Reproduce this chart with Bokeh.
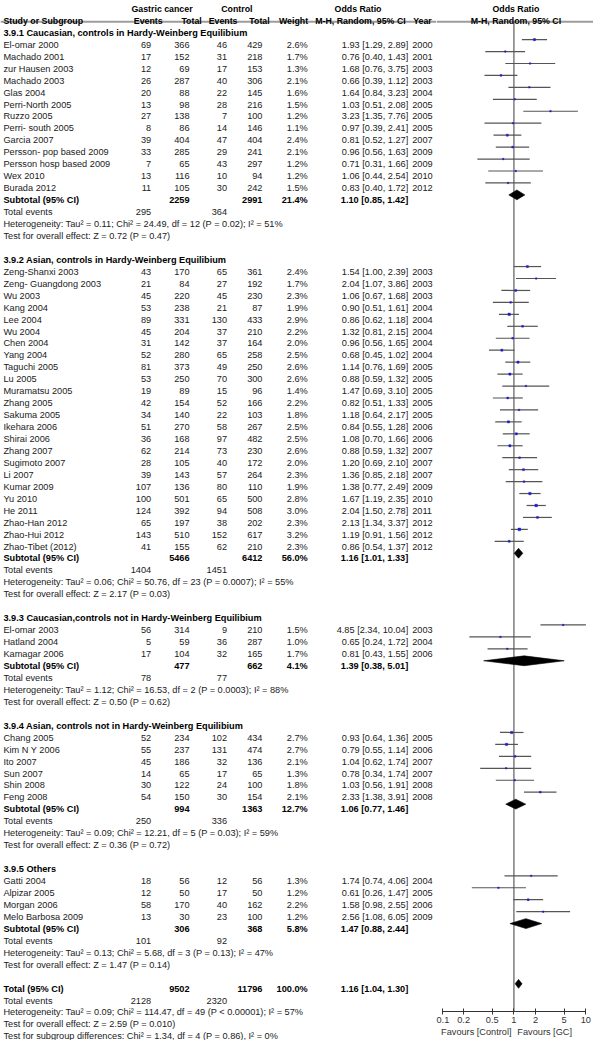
from bokeh.plotting import figure
from bokeh.layouts import row
from bokeh.models import ColumnDataSource, Range1d, FixedTicker, CustomJSTickFormatter, LogAxis
from bokeh.core.properties import value
from bokeh.embed import file_html
from bokeh.resources import INLINE

# ------------------------------------------------------------------ data
group_titles = [
    "3.9.1 Caucasian, controls in Hardy-Weinberg Equilibium",
    "3.9.2 Asian, controls in Hardy-Weinberg Equilibium",
    "3.9.3 Caucasian,controls not in Hardy-Weinberg Equilibium",
    "3.9.4 Asian, controls not in Hardy-Weinberg Equilibium",
    "3.9.5 Others",
]

studies = [
    "El-omar 2000", "Machado 2001", "zur Hausen 2003", "Machado 2003", "Glas 2004",
    "Perri-North 2005", "Ruzzo 2005", "Perri- south 2005", "Garcia 2007",
    "Persson- pop based 2009", "Persson hosp based 2009", "Wex 2010", "Burada 2012",
    "Zeng-Shanxi 2003", "Zeng- Guangdong 2003", "Wu 2003", "Kang 2004", "Lee 2004",
    "Wu 2004", "Chen 2004", "Yang 2004", "Taguchi 2005", "Lu 2005", "Muramatsu 2005",
    "Zhang 2005", "Sakuma 2005", "Ikehara 2006", "Shirai 2006", "Zhang 2007",
    "Sugimoto 2007", "Li 2007", "Kumar 2009", "Yu 2010", "He 2011", "Zhao-Han 2012",
    "Zhao-Hui 2012", "Zhao-Tibet (2012)",
    "El-omar 2003", "Hatland 2004", "Kamagar 2006",
    "Chang 2005", "Kim N Y 2006", "Ito 2007", "Sun 2007", "Shin 2008", "Feng 2008",
    "Gatti 2004", "Alpizar 2005", "Morgan 2006", "Melo Barbosa 2009",
]
study_group = [0] * 13 + [1] * 24 + [2] * 3 + [3] * 6 + [4] * 4

gc_events = [69, 17, 12, 26, 20, 13, 27, 8, 39, 33, 7, 13, 11,
             43, 21, 45, 53, 89, 45, 31, 52, 81, 53, 19, 42, 34, 51, 36, 62, 28, 39,
             107, 100, 124, 65, 143, 41,
             56, 5, 17,
             52, 55, 45, 14, 30, 54,
             18, 12, 58, 13]
gc_total = [366, 152, 69, 287, 88, 98, 138, 86, 404, 285, 65, 116, 105,
            170, 84, 220, 238, 331, 204, 142, 280, 373, 250, 89, 154, 140, 270, 168, 214,
            105, 143, 136, 501, 392, 197, 510, 155,
            314, 59, 104,
            234, 237, 186, 65, 122, 150,
            56, 50, 170, 30]
ctl_events = [46, 31, 17, 40, 22, 28, 7, 14, 47, 29, 43, 10, 30,
              65, 27, 45, 21, 130, 37, 37, 65, 49, 70, 15, 52, 22, 58, 97, 73, 40, 57,
              80, 65, 94, 38, 152, 62,
              9, 36, 32,
              102, 131, 32, 17, 24, 30,
              12, 17, 40, 23]
ctl_total = [429, 218, 153, 306, 145, 216, 100, 146, 404, 241, 297, 94, 242,
             361, 192, 230, 87, 433, 210, 164, 258, 250, 300, 96, 166, 103, 267, 482, 230,
             172, 264, 110, 500, 508, 202, 617, 210,
             210, 287, 165,
             434, 474, 136, 65, 100, 154,
             56, 50, 162, 100]
weights = [2.6, 1.7, 1.3, 2.1, 1.6, 1.5, 1.2, 1.1, 2.4, 2.1, 1.2, 1.2, 1.5,
           2.4, 1.7, 2.3, 1.9, 2.9, 2.2, 2.0, 2.5, 2.6, 2.6, 1.4, 2.2, 1.8, 2.5, 2.5, 2.6,
           2.0, 2.3, 1.9, 2.8, 3.0, 2.3, 3.2, 2.3,
           1.5, 1.0, 1.7,
           2.7, 2.7, 2.1, 1.3, 1.8, 2.1,
           1.3, 1.2, 2.2, 1.2]
odds = [1.93, 0.76, 1.68, 0.66, 1.64, 1.03, 3.23, 0.97, 0.81, 0.96, 0.71, 1.06, 0.83,
        1.54, 2.04, 1.06, 0.90, 0.86, 1.32, 0.96, 0.68, 1.14, 0.88, 1.47, 0.82, 1.18,
        0.84, 1.08, 0.88, 1.20, 1.36, 1.38, 1.67, 2.04, 2.13, 1.19, 0.86,
        4.85, 0.65, 0.81,
        0.93, 0.79, 1.04, 0.78, 1.03, 2.33,
        1.74, 0.61, 1.58, 2.56]
ci_low = [1.29, 0.40, 0.76, 0.39, 0.84, 0.51, 1.35, 0.39, 0.52, 0.56, 0.31, 0.44, 0.40,
          1.00, 1.07, 0.67, 0.51, 0.62, 0.81, 0.56, 0.45, 0.76, 0.59, 0.69, 0.51, 0.64,
          0.55, 0.70, 0.59, 0.69, 0.85, 0.77, 1.19, 1.50, 1.34, 0.91, 0.54,
          2.34, 0.24, 0.43,
          0.64, 0.55, 0.62, 0.34, 0.56, 1.38,
          0.74, 0.26, 0.98, 1.08]
ci_high = [2.89, 1.43, 3.75, 1.12, 3.23, 2.08, 7.76, 2.41, 1.27, 1.63, 1.66, 2.54, 1.72,
           2.39, 3.86, 1.68, 1.61, 1.18, 2.15, 1.65, 1.02, 1.69, 1.32, 3.10, 1.33, 2.17,
           1.28, 1.66, 1.32, 2.10, 2.18, 2.49, 2.35, 2.78, 3.37, 1.56, 1.37,
           10.04, 1.72, 1.55,
           1.36, 1.14, 1.74, 1.74, 1.91, 3.91,
           4.06, 1.47, 2.55, 6.05]
years = [2000, 2001, 2003, 2003, 2004, 2005, 2005, 2005, 2007, 2009, 2009, 2010, 2012,
         2003, 2003, 2003, 2004, 2004, 2004, 2004, 2004, 2005, 2005, 2005, 2005, 2005,
         2006, 2006, 2007, 2007, 2007, 2009, 2010, 2011, 2012, 2012, 2012,
         2003, 2004, 2006,
         2005, 2006, 2007, 2007, 2008, 2008,
         2004, 2005, 2006, 2009]

sub_gc_total = [2259, 5466, 477, 994, 306]
sub_ctl_total = [2991, 6412, 662, 1363, 368]
sub_weight = [21.4, 56.0, 4.1, 12.7, 5.8]
sub_or = [1.10, 1.16, 1.39, 1.06, 1.47]
sub_low = [0.85, 1.01, 0.38, 0.77, 0.88]
sub_high = [1.42, 1.33, 5.01, 1.46, 2.44]
sub_gc_events = [295, 1404, 78, 250, 101]
sub_ctl_events = [364, 1451, 77, 336, 92]
het_tau2 = [0.11, 0.06, 1.12, 0.09, 0.13]
het_chi2 = [24.49, 50.76, 16.53, 12.21, 5.68]
het_df = [12, 23, 2, 5, 3]
het_p = ["= 0.02", "= 0.0007", "= 0.0003", "= 0.03", "= 0.13"]
het_i2 = [51, 55, 88, 59, 47]
z_val = [0.72, 2.17, 0.50, 0.36, 1.47]
z_p = ["0.47", "0.03", "0.62", "0.72", "0.14"]

total_gc, total_ctl, total_weight = 9502, 11796, 100.0
total_or, total_low, total_high = 1.16, 1.04, 1.30
total_gc_events, total_ctl_events = 2128, 2320
total_tau2, total_chi2, total_df, total_p, total_i2 = 0.09, 114.47, 49, "< 0.00001", 57
total_z, total_zp = 2.59, "0.010"
diff_chi2, diff_df, diff_p, diff_i2 = 1.34, 4, "0.86", 0

axis_ticks = [0.1, 0.2, 0.5, 1, 2, 5, 10]
favours_labels = ["Favours [Control]", "Favours [GC]"]

# ------------------------------------------------------------------ layout
S = 1040 / 1056.0
X0 = 3.0
LEFT_W, RIGHT_W, H, BOTTOM = 436, 157, 1040, 29
SPLIT = X0 + LEFT_W / S
XEND = SPLIT + RIGHT_W / S
YBOT = (H - BOTTOM) / S
X_ONE, DEC = 524.3, 73.0
Y0, LH = 5.3, 12.13
FS = "9.2px"
FS_HEAD = "8.8px"
FONT = "Liberation Sans"
BASE = 3.3      # baseline below visual centre
MOFF = -2.0     # plot marks above text centre
FAV_POS = [0.30, 2.68]   # label centres on the odds-ratio scale


def ref_to_or(x):
    return 10 ** ((x - X_ONE) / DEC)


def ly(i):
    return Y0 + LH * i


def ortxt(o, lo, hi):
    return f"{o:.2f} [{lo:.2f}, {hi:.2f}]"


items = {}


def put(x, line, txt, align="left", bold=False, size=FS):
    d = items.setdefault((align, bold, size), {"x": [], "y": [], "t": []})
    d["x"].append(x)
    d["y"].append(ly(line) + BASE)
    d["t"].append(str(txt))


C_EV, C_TOT, C_CEV, C_CTOT, C_W, C_OR, C_YR, C_NAME = 156, 195, 233, 269, 315, 417, 421, 6

# header
put(167, 0, "Gastric cancer", "center", True, FS_HEAD)
put(243, 0, "Control", "center", True, FS_HEAD)
put(366, 0, "Odds Ratio", "center", True, FS_HEAD)
put(C_NAME, 1, "Study or Subgroup", "left", True, FS_HEAD)
put(153, 1, "Events", "center", True, FS_HEAD)
put(197, 1, "Total", "center", True, FS_HEAD)
put(229, 1, "Events", "center", True, FS_HEAD)
put(266, 1, "Total", "center", True, FS_HEAD)
put(300.5, 1, "Weight", "center", True, FS_HEAD)
put(368.5, 1, "M-H, Random, 95% CI", "center", True, FS_HEAD)
put(422, 1, "Year", "left", True, FS_HEAD)

ci_rows = {"lo": [], "hi": [], "o": [], "y": [], "s": []}
dia = {"xs": [], "ys": []}


def diamond(o, lo, hi, y, hh=5.0):
    dia["xs"].append([lo, o, hi, o])
    dia["ys"].append([y, y - hh, y, y + hh])


cur = 2
for g in range(len(group_titles)):
    put(C_NAME, cur, group_titles[g], "left", True)
    cur += 1
    for i, name in enumerate(studies):
        if study_group[i] != g:
            continue
        put(C_NAME, cur, name)
        put(C_EV, cur, gc_events[i], "right")
        put(C_TOT, cur, gc_total[i], "right")
        put(C_CEV, cur, ctl_events[i], "right")
        put(C_CTOT, cur, ctl_total[i], "right")
        put(C_W, cur, f"{weights[i]:.1f}%", "right")
        put(C_OR, cur, ortxt(odds[i], ci_low[i], ci_high[i]), "right")
        put(C_YR, cur, years[i], "left")
        ci_rows["lo"].append(ci_low[i])
        ci_rows["hi"].append(ci_high[i])
        ci_rows["o"].append(odds[i])
        ci_rows["y"].append(ly(cur) + MOFF)
        ci_rows["s"].append(max(1.5, weights[i] * 0.85))
        cur += 1
    put(C_NAME, cur, "Subtotal (95% CI)", "left", True)
    put(C_TOT, cur, sub_gc_total[g], "right", True)
    put(C_CTOT, cur, sub_ctl_total[g], "right", True)
    put(C_W, cur, f"{sub_weight[g]:.1f}%", "right", True)
    put(C_OR, cur, ortxt(sub_or[g], sub_low[g], sub_high[g]), "right", True)
    diamond(sub_or[g], sub_low[g], sub_high[g], ly(cur) + MOFF)
    cur += 1
    put(C_NAME, cur, "Total events")
    put(C_EV, cur, sub_gc_events[g], "right")
    put(C_CEV, cur, sub_ctl_events[g], "right")
    cur += 1
    put(C_NAME, cur, f"Heterogeneity: Tau\u00b2 = {het_tau2[g]:.2f}; Chi\u00b2 = {het_chi2[g]:.2f}, "
                     f"df = {het_df[g]} (P {het_p[g]}); I\u00b2 = {het_i2[g]}%")
    cur += 1
    put(C_NAME, cur, f"Test for overall effect: Z = {z_val[g]:.2f} (P = {z_p[g]})")
    cur += 2

put(C_NAME, cur, "Total (95% CI)", "left", True)
put(C_TOT, cur, total_gc, "right", True)
put(C_CTOT, cur, total_ctl, "right", True)
put(C_W, cur, f"{total_weight:.1f}%", "right", True)
put(C_OR, cur, ortxt(total_or, total_low, total_high), "right", True)
diamond(total_or, total_low, total_high, ly(cur) + MOFF + 0.5, 4.5)
cur += 1
put(C_NAME, cur, "Total events")
put(C_EV, cur, total_gc_events, "right")
put(C_CEV, cur, total_ctl_events, "right")
cur += 1
put(C_NAME, cur, f"Heterogeneity: Tau\u00b2 = {total_tau2:.2f}; Chi\u00b2 = {total_chi2:.2f}, "
                 f"df = {total_df} (P {total_p}); I\u00b2 = {total_i2}%")
cur += 1
put(C_NAME, cur, f"Test for overall effect: Z = {total_z:.2f} (P = {total_zp})")
cur += 1
put(C_NAME, cur, f"Test for subgroup differences: Chi\u00b2 = {diff_chi2:.2f}, df = {diff_df} "
                 f"(P = {diff_p}), I\u00b2 = {diff_i2}%")

HEADER_Y = 21.5

# ------------------------------------------------------------------ left figure (table)
left = figure(width=LEFT_W, height=H, x_range=Range1d(X0, SPLIT), y_range=Range1d(1056, 0),
              output_backend="svg", toolbar_location=None,
              x_axis_location=None, y_axis_location=None,
              min_border=0, min_border_left=0, min_border_right=0,
              min_border_top=0, min_border_bottom=0, frame_align=False)
left.outline_line_color = None
left.grid.visible = False
left.background_fill_color = "white"
left.segment(x0=[X0], y0=[HEADER_Y], x1=[SPLIT], y1=[HEADER_Y], line_color="#9c9c9c", line_width=2)

for (align, bold, size), d in items.items():
    src = ColumnDataSource(dict(x=d["x"], y=d["y"], t=d["t"]))
    left.text(x="x", y="y", text="t", source=src, text_align=align, text_baseline="alphabetic",
              text_font=value(FONT), text_font_size=value(size),
              text_font_style="bold" if bold else "normal",
              text_color="#000000" if bold else "#1a1a1a")

# ------------------------------------------------------------------ right figure (forest)
right = figure(width=RIGHT_W, height=H, x_axis_type="log",
               x_range=Range1d(ref_to_or(SPLIT), ref_to_or(XEND)), y_range=Range1d(YBOT, 0),
               output_backend="svg", toolbar_location=None, y_axis_location=None,
               min_border=0, min_border_left=0, min_border_right=0,
               min_border_top=0, min_border_bottom=BOTTOM, frame_align=False)
right.outline_line_color = None
right.grid.visible = False
right.background_fill_color = "white"

right.segment(x0=[ref_to_or(SPLIT)], y0=[HEADER_Y], x1=[ref_to_or(XEND)], y1=[HEADER_Y],
              line_color="#9c9c9c", line_width=2)
right.segment(x0=[1], y0=[HEADER_Y], x1=[1], y1=[YBOT], line_color="#7d7d7d", line_width=1.5)

right.text(x=[1, 1], y=[ly(0) + BASE, ly(1) + BASE], text=["Odds Ratio", "M-H, Random, 95% CI"],
           x_offset=2, text_align="center", text_baseline="alphabetic",
           text_font=value(FONT), text_font_size=value(FS_HEAD), text_font_style="bold",
           text_color="#000000")

ci_src = ColumnDataSource(ci_rows)
right.segment(x0="lo", y0="y", x1="hi", y1="y", source=ci_src, line_color="#555555", line_width=1.2)
right.scatter(x="o", y="y", size="s", marker="square", source=ci_src,
              fill_color="#1a1ad0", line_color="#1a1ad0", line_width=0.4)
right.patches(xs="xs", ys="ys", source=ColumnDataSource(dia), fill_color="black",
              line_color="black", line_width=0.6)

ax = right.xaxis[0]
ax.ticker = FixedTicker(ticks=axis_ticks, minor_ticks=[])
ax.formatter = CustomJSTickFormatter(code="return tick.toString();")
ax.bounds = (axis_ticks[0], axis_ticks[-1])
ax.axis_line_color = "#333333"
ax.axis_line_width = 1
ax.major_tick_line_color = "#333333"
ax.major_tick_in = 3
ax.major_tick_out = 3
ax.minor_tick_in = 0
ax.minor_tick_out = 0
ax.major_label_standoff = 2
ax.major_label_text_font = FONT
ax.major_label_text_font_size = FS
ax.major_label_text_color = "#333333"

fav = LogAxis(ticker=FixedTicker(ticks=FAV_POS, minor_ticks=[]),
              formatter=CustomJSTickFormatter(
                  args=dict(labels=favours_labels),
                  code="return tick < 1 ? labels[0] : labels[1];"))
fav.axis_line_color = None
fav.major_tick_line_color = None
fav.major_tick_in = 0
fav.major_tick_out = 0
fav.minor_tick_in = 0
fav.minor_tick_out = 0
fav.major_label_standoff = 1
fav.major_label_text_font = FONT
fav.major_label_text_font_size = FS
fav.major_label_text_color = "#333333"
right.add_layout(fav, "below")

layout = row(left, right)
open("out.html", "w").write(file_html(layout, INLINE))
